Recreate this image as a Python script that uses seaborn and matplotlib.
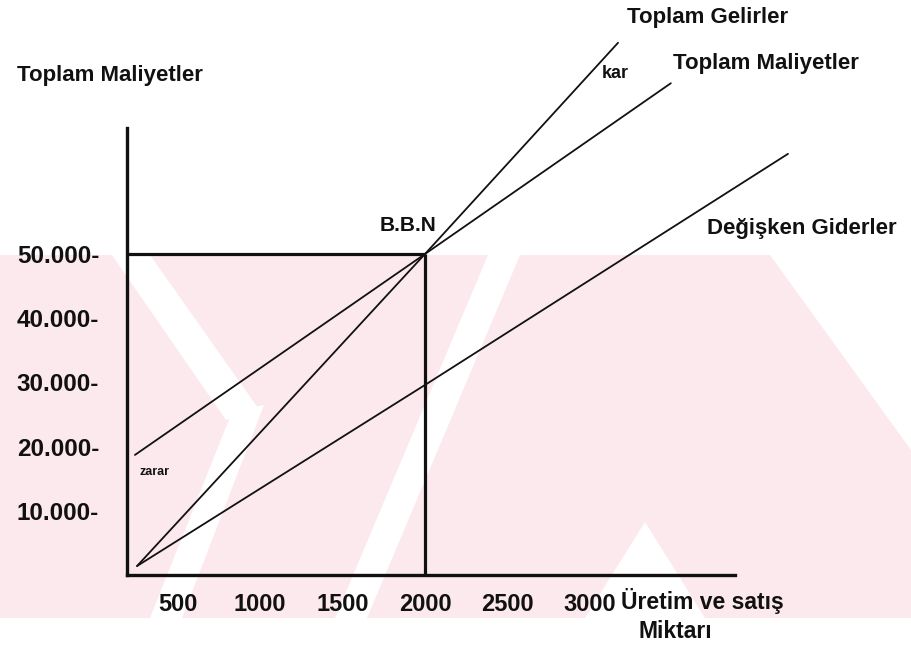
import numpy as np
import pandas as pd
import matplotlib.pyplot as plt
import seaborn as sns

# --- values (x read against the tick labels) ---
revenue_units = [255, 2000, 3170]
revenue_tl = [1400, 50000, 82900]

total_cost_units = [242, 2000, 3490]
total_cost_tl = [18700, 50000, 76600]

variable_cost_units = [255, 2000, 4200]
variable_cost_tl = [1400, 29600, 65600]

bep_units = 2000
bep_tl = 50000

x_ticks = [500, 1000, 1500, 2000, 2500, 3000]
y_ticks = [10000, 20000, 30000, 40000, 50000]
y_tick_labels = ["10.000-", "20.000-", "30.000-", "40.000-", "50.000-"]

# --- long table for seaborn ---
df = pd.concat([
    pd.DataFrame({"Miktar": revenue_units, "TL": revenue_tl, "seri": "Toplam Gelirler"}),
    pd.DataFrame({"Miktar": total_cost_units, "TL": total_cost_tl, "seri": "Toplam Maliyetler"}),
    pd.DataFrame({"Miktar": variable_cost_units, "TL": variable_cost_tl, "seri": "Değişken Giderler"}),
])

sns.set_theme(style="white")
plt.rcParams["font.family"] = ["Liberation Sans", "DejaVu Sans"]
plt.rcParams["font.weight"] = "bold"

W, H = 911, 647
fig = plt.figure(figsize=(W / 100, H / 100), dpi=100)

# faint pink watermark band of the scanned page (pixel coords, decoration only)
bg = fig.add_axes([0, 0, 1, 1], zorder=-5)
bg.set_xlim(0, W)
bg.set_ylim(H, 0)
bg.axis("off")
pink = "#fce9ee"
bg.fill([0, W, W, 0], [255, 255, 618, 618], color=pink, lw=0)
white_stripes = [
    [(112, 255), (150, 255), (258, 408), (226, 420)],
    [(488, 255), (520, 255), (367, 618), (335, 618)],
    [(232, 412), (264, 405), (182, 618), (150, 618)],
    [(645, 522), (705, 618), (585, 618)],
    [(770, 255), (911, 255), (911, 450)],
]
for poly in white_stripes:
    xs, ys = zip(*poly)
    bg.fill(xs, ys, color="white", lw=0)

# the drawn axes are not to scale: the y axis sits a bit right of zero
x_left, x_right = 194, 4400
axis_x_end = 3880
axis_y_top = 69600
ax = fig.add_axes([127 / W, 72 / H, (x_right - x_left) * 0.165 / W, 545.7 / H])
ax.set_xlim(x_left, x_right)
ax.set_ylim(0, 85000)
ax.patch.set_alpha(0)

sns.lineplot(data=df, x="Miktar", y="TL", hue="seri", units="seri", estimator=None,
             palette=["#111111"] * 3, linewidth=1.3, legend=False, ax=ax, clip_on=False)

# break-even box
ax.hlines(bep_tl, x_left, bep_units, color="#111111", lw=2.3)
ax.vlines(bep_units, 0, bep_tl, color="#111111", lw=2.3)

# hand-drawn axes
for side in ["top", "right"]:
    ax.spines[side].set_visible(False)
ax.spines["left"].set_bounds(0, axis_y_top)
ax.spines["bottom"].set_bounds(x_left, axis_x_end)
for side in ["left", "bottom"]:
    ax.spines[side].set_color("#111111")
    ax.spines[side].set_linewidth(2.4)

ax.set_xticks(x_ticks)
ax.set_xticklabels([str(v) for v in x_ticks])
ax.set_yticks(y_ticks)
ax.set_yticklabels(y_tick_labels)
ax.tick_params(axis="x", length=0, pad=13, labelsize=17, colors="#111111")
ax.tick_params(axis="y", length=0, pad=20, labelsize=17.5, colors="#111111")
for lab in ax.get_xticklabels() + ax.get_yticklabels():
    lab.set_fontweight("bold")
ax.set_xlabel("")
ax.set_ylabel("")

def ftext(px, py, s, size=16, ha="left", weight="bold"):
    fig.text(px / W, 1 - py / H, s, ha=ha, va="center", fontsize=size,
             fontweight=weight, color="#111111")

ftext(17, 75, "Toplam Maliyetler")
ftext(627, 17, "Toplam Gelirler")
ftext(673, 63, "Toplam Maliyetler")
ftext(707, 228, "Değişken Giderler")
ftext(602, 73, "kar", size=13)
ftext(408, 226, "B.B.N", size=15, ha="center")
ftext(140, 472, "zarar", size=9)
ftext(621, 601, "Üretim ve satış", size=16.5)
ftext(638, 632, "Miktarı", size=16.5)

fig.savefig("out.png", dpi=100)
